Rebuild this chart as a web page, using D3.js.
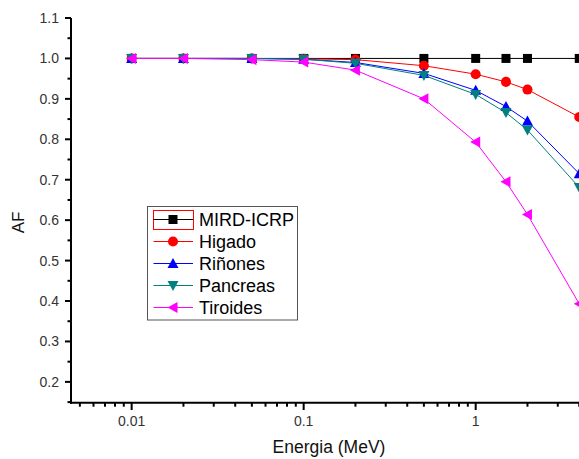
<!DOCTYPE html>
<html><head><meta charset="utf-8">
<script src="https://cdn.jsdelivr.net/npm/d3@7"></script>
<style>body{margin:0;background:#fff}svg{display:block}</style>
</head><body>
<svg id="c" width="579" height="459"></svg>
<script>
const energy = [0.01, 0.02, 0.05, 0.1, 0.2, 0.5, 1, 1.5, 2, 4];
const mird = [1, 1, 1, 1, 1, 1, 1, 1, 1, 1];
const higado = [1, 1, 1, 0.999, 0.997, 0.982, 0.961, 0.942, 0.923, 0.855];
const rinones = [1, 1, 1, 0.998, 0.990, 0.963, 0.921, 0.881, 0.845, 0.715];
const pancreas = [1, 1, 1, 0.998, 0.988, 0.958, 0.911, 0.866, 0.823, 0.681];
const tiroides = [1, 1, 0.997, 0.991, 0.971, 0.900, 0.793, 0.695, 0.614, 0.393];
const seriesNames = ["MIRD-ICRP", "Higado", "Riñones", "Pancreas", "Tiroides"];
const xMajorTicks = [0.01, 0.1, 1];
const yMajorTicks = [0.2, 0.3, 0.4, 0.5, 0.6, 0.7, 0.8, 0.9, 1.0, 1.1];

const series = [
  {name: seriesNames[0], values: mird, color: "#000000", marker: "square"},
  {name: seriesNames[1], values: higado, color: "#ff0000", marker: "circle"},
  {name: seriesNames[2], values: rinones, color: "#0000ff", marker: "up"},
  {name: seriesNames[3], values: pancreas, color: "#008080", marker: "down"},
  {name: seriesNames[4], values: tiroides, color: "#ff00ff", marker: "left"}
];

const svg = d3.select("#c");
const x = d3.scaleLog().domain([0.00444, 10]).range([71, 647.7]);
const y = d3.scaleLinear().domain([0.1485, 1.1]).range([402.7, 18]);
const font = "'Liberation Sans', Arial, sans-serif";

function markerPath(type) {
  switch (type) {
    case "square": return "M-4.5,-4.5H4.5V4.5H-4.5Z";
    case "circle": return d3.symbol(d3.symbolCircle, 80)();
    case "up": return "M0,-5.5L5.5,4.5L-5.5,4.5Z";
    case "down": return "M0,5.5L5.5,-4.5L-5.5,-4.5Z";
    case "left": return "M-5.5,0L4.5,-5.5L4.5,5.5Z";
  }
}

// lines & markers
const line = d3.line().x((d, i) => x(energy[i])).y(d => y(d));
series.forEach(s => {
  const g = svg.append("g");
  g.append("path").attr("d", line(s.values)).attr("fill", "none")
    .attr("stroke", s.color).attr("stroke-width", 1);
  g.selectAll("path.m").data(s.values).enter().append("path").attr("class", "m")
    .attr("d", markerPath(s.marker))
    .attr("transform", (d, i) => `translate(${x(energy[i])},${y(d)})`)
    .attr("fill", s.color);
});

// axes
const axG = svg.append("g").attr("stroke", "#000");
axG.append("line").attr("x1", 71).attr("x2", 71).attr("y1", 18).attr("y2", 403.7).attr("stroke-width", 2);
axG.append("line").attr("x1", 70).attr("x2", 650).attr("y1", 402.7).attr("y2", 402.7).attr("stroke-width", 2);

// y ticks
const yMinor = d3.range(0.15, 1.1, 0.1).map(v => +v.toFixed(2));
yMajorTicks.forEach(v => {
  axG.append("line").attr("x1", 65).attr("x2", 71).attr("y1", y(v)).attr("y2", y(v)).attr("stroke-width", 2);
  svg.append("text").attr("x", 59).attr("y", y(v) + 5).attr("text-anchor", "end")
    .attr("font-family", font).attr("font-size", 14).attr("fill", "#333").text(v.toFixed(1));
});
yMinor.forEach(v => {
  axG.append("line").attr("x1", 67.5).attr("x2", 71).attr("y1", y(v)).attr("y2", y(v)).attr("stroke-width", 2);
});

// x ticks
const xMinor = [];
[0.001, 0.01, 0.1, 1].forEach(dec => { for (let k = 2; k <= 9; k++) { const v = dec * k; if (v > 0.00444 && v < 10) xMinor.push(v); } });
xMajorTicks.forEach(v => {
  axG.append("line").attr("x1", x(v)).attr("x2", x(v)).attr("y1", 402.7).attr("y2", 410).attr("stroke-width", 2);
  svg.append("text").attr("x", x(v)).attr("y", 426).attr("text-anchor", "middle")
    .attr("font-family", font).attr("font-size", 14).attr("fill", "#333").text(String(v));
});
xMinor.forEach(v => {
  axG.append("line").attr("x1", x(v)).attr("x2", x(v)).attr("y1", 402.7).attr("y2", 406.7).attr("stroke-width", 2);
});

// axis titles
svg.append("text").attr("x", 329).attr("y", 453).attr("text-anchor", "middle")
  .attr("font-family", font).attr("font-size", 17.5).attr("fill", "#111").text("Energia (MeV)");
svg.append("text").attr("transform", "translate(23.5,222.5) rotate(-90)").attr("text-anchor", "middle")
  .attr("font-family", font).attr("font-size", 17).attr("fill", "#111").text("AF");

// legend
const lg = svg.append("g");
lg.append("rect").attr("x", 147.5).attr("y", 206.5).attr("width", 150).attr("height", 113.5)
  .attr("fill", "#fff").attr("stroke", "#555").attr("stroke-width", 1);
lg.append("rect").attr("x", 153.5).attr("y", 210.5).attr("width", 40).attr("height", 19)
  .attr("fill", "none").attr("stroke", "#ff0000").attr("stroke-width", 1);
const rowY = [219.5, 241.5, 263.5, 285.5, 307.5];
series.forEach((s, i) => {
  lg.append("line").attr("x1", 153.5).attr("x2", 193).attr("y1", rowY[i]).attr("y2", rowY[i])
    .attr("stroke", s.color).attr("stroke-width", 1);
  lg.append("path").attr("d", markerPath(s.marker)).attr("transform", `translate(173,${rowY[i]})`).attr("fill", s.color);
  lg.append("text").attr("x", 199).attr("y", rowY[i] + 6.5).attr("font-family", font).attr("font-size", 18)
    .attr("fill", "#000").text(s.name);
});
</script>
</body></html>
